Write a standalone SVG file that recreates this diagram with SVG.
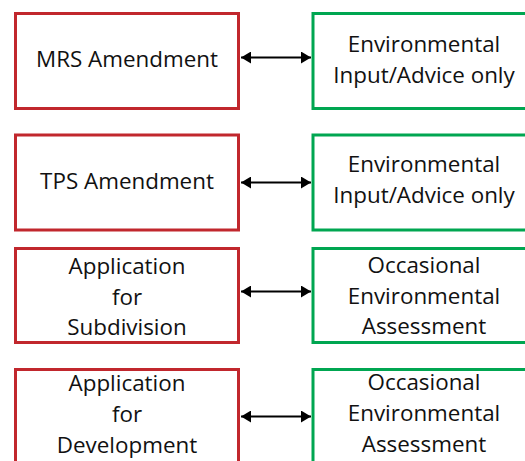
<svg xmlns="http://www.w3.org/2000/svg" width="525" height="461" viewBox="0 0 525 461">
<style>
.red{fill:#fff;stroke:#c1272d;stroke-width:3}
.green{fill:#fff;stroke:#00a651;stroke-width:3}
text{font-family:"Open Sans","Noto Sans",sans-serif;font-size:22.4px;fill:#111;text-anchor:middle}
.conn line{stroke:#000;stroke-width:2}
</style>
<defs>
<marker id="ah" viewBox="0 0 10 12" refX="10" refY="6" markerWidth="10" markerHeight="12" markerUnits="userSpaceOnUse" orient="auto-start-reverse">
<path d="M0,0 L10,6 L0,12 z" fill="#000"/>
</marker>
</defs>
<g id="mrs"><rect class="red" x="15.5" y="13.5" width="223" height="95"/><text x="127" y="67">MRS Amendment</text></g>
<g id="env1"><rect class="green" x="313" y="13.5" width="225" height="95"/><text x="424" y="52">Environmental</text><text x="424" y="83">Input/Advice only</text></g>
<g id="tps"><rect class="red" x="15.5" y="135" width="223" height="95"/><text x="127" y="189">TPS Amendment</text></g>
<g id="env2"><rect class="green" x="313" y="135" width="225" height="95"/><text x="424" y="172">Environmental</text><text x="424" y="203">Input/Advice only</text></g>
<g id="sub"><rect class="red" x="15.5" y="248.5" width="223" height="94"/><text x="127" y="274">Application</text><text x="127" y="305">for</text><text x="127" y="335">Subdivision</text></g>
<g id="occ1"><rect class="green" x="313" y="248.5" width="225" height="94"/><text x="424" y="273">Occasional</text><text x="424" y="304">Environmental</text><text x="424" y="334">Assessment</text></g>
<g id="dev"><rect class="red" x="15.5" y="369.5" width="223" height="95"/><text x="127" y="391">Application</text><text x="127" y="422">for</text><text x="127" y="453">Development</text></g>
<g id="occ2"><rect class="green" x="313" y="369.5" width="225" height="95"/><text x="424" y="390">Occasional</text><text x="424" y="421">Environmental</text><text x="424" y="452">Assessment</text></g>
<g class="conn">
<line x1="241" y1="57.5" x2="311" y2="57.5" marker-start="url(#ah)" marker-end="url(#ah)"/>
<line x1="241" y1="182.5" x2="311" y2="182.5" marker-start="url(#ah)" marker-end="url(#ah)"/>
<line x1="241" y1="291.5" x2="311" y2="291.5" marker-start="url(#ah)" marker-end="url(#ah)"/>
<line x1="241" y1="416.5" x2="311" y2="416.5" marker-start="url(#ah)" marker-end="url(#ah)"/>
</g>
</svg>
